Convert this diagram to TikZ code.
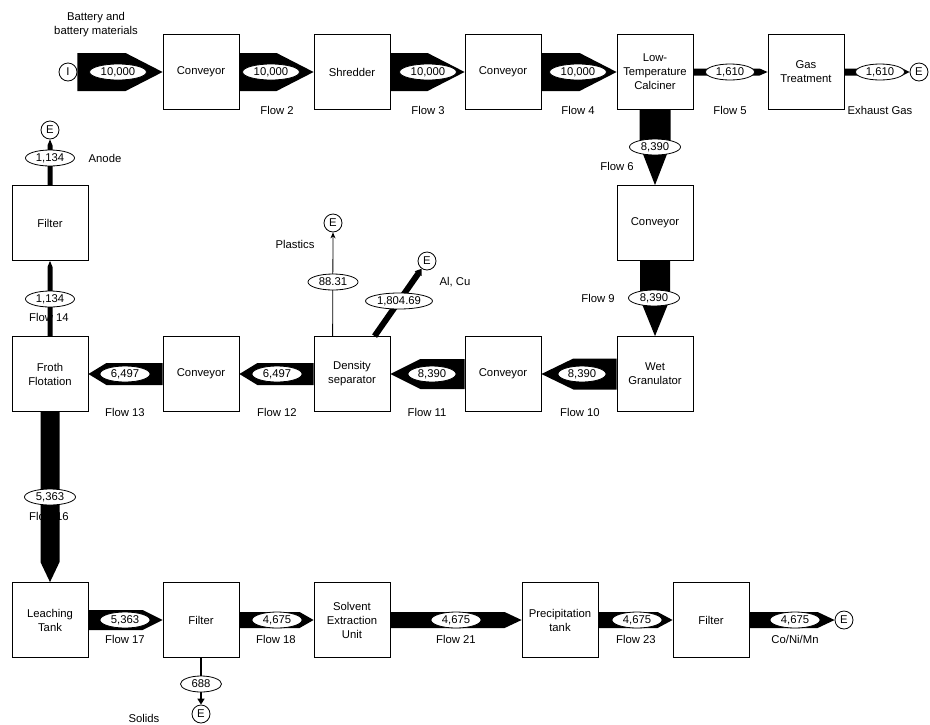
\documentclass[tikz,border=0pt]{standalone}
\usepackage{fontspec}
\setmainfont{Liberation Sans}
\usetikzlibrary{shapes.geometric,calc,arrows.meta}
% fat flow arrows drawn between node anchors: #1 start, #2 tip, #3 half thickness, #4 head length
\newcommand{\flowR}[4]{\fill ($(#1)+(0,#3)$) -- ($(#2)+(-#4,#3)$) -- (#2) -- ($(#2)+(-#4,-#3)$) -- ($(#1)+(0,-#3)$) -- cycle;}
\newcommand{\flowL}[4]{\fill ($(#1)+(0,#3)$) -- ($(#2)+(#4,#3)$) -- (#2) -- ($(#2)+(#4,-#3)$) -- ($(#1)+(0,-#3)$) -- cycle;}
\newcommand{\flowD}[4]{\fill ($(#1)+(#3,0)$) -- ($(#2)+(#3,-#4)$) -- (#2) -- ($(#2)+(-#3,-#4)$) -- ($(#1)+(-#3,0)$) -- cycle;}
\newcommand{\flowU}[4]{\fill ($(#1)+(#3,0)$) -- ($(#2)+(#3,#4)$) -- (#2) -- ($(#2)+(-#3,#4)$) -- ($(#1)+(-#3,0)$) -- cycle;}
\begin{document}
\begin{tikzpicture}[x=1pt,y=-1pt,
  every node/.style={font=\fontsize{11.3}{14}\selectfont},
  unit/.style={draw, line width=0.8pt, minimum width=76pt, minimum height=75pt, align=center, inner sep=1pt},
  val/.style={draw, ellipse, fill=white, line width=0.8pt, inner sep=0pt, minimum height=16pt},
  term/.style={draw, circle, line width=0.8pt, minimum size=18pt, inner sep=0pt, fill=white},
  lbl/.style={align=center, inner sep=0pt}]
\useasboundingbox[fill=white] (0,0) rectangle (930,724);

% ---------- process units ----------
\node[unit] (conv1) at (201,72) {Conveyor};
\node[unit] (shred) at (352,72) {Shredder};
\node[unit] (conv2) at (503,72) {Conveyor};
\node[unit] (calc)  at (655,72) {Low-\\Temperature\\Calciner};
\node[unit] (gas)   at (806,72) {Gas\\Treatment};
\node[unit] (conv3) at (655,223) {Conveyor};
\node[unit] (wetg)  at (655,374) {Wet\\Granulator};
\node[unit] (conv4) at (503,374) {Conveyor};
\node[unit] (dens)  at (352,374) {Density\\separator};
\node[unit] (conv5) at (201,374) {Conveyor};
\node[unit] (froth) at (50,374) {Froth\\Flotation};
\node[unit] (filt1) at (50,223) {Filter};
\node[unit] (leach) at (50,620) {Leaching\\Tank};
\node[unit] (filt2) at (201,620) {Filter};
\node[unit] (seu)   at (352,620) {Solvent\\Extraction\\Unit};
\node[unit] (prec)  at (560,620) {Precipitation\\tank};
\node[unit] (filt3) at (711,620) {Filter};

% ---------- terminals ----------
\node[term] (inI) at (68,72) {I};
\node[term] (exG) at (919,72) {E};
\node[term] (eAn) at (50,130) {E};
\node[term] (ePl) at (333,223) {E};
\node[term] (eAl) at (427,261) {E};
\node[term] (eCo) at (844,620) {E};
\node[term] (eSo) at (201,714) {E};

% ---------- labels ----------
\node[lbl] (tBat) at (96,25) {Battery and\\battery materials};
\node[lbl] (tF2)  at (277,110) {Flow 2};
\node[lbl] (tF3)  at (428,110) {Flow 3};
\node[lbl] (tF4)  at (578,110) {Flow 4};
\node[lbl] (tF5)  at (730,110) {Flow 5};
\node[lbl] (tEx)  at (880,110) {Exhaust Gas};
\node[lbl] (tF6)  at (617,166) {Flow 6};
\node[lbl] (tF9)  at (598,298) {Flow 9};
\node[lbl] (tF10) at (580,412) {Flow 10};
\node[lbl] (tF11) at (427,412) {Flow 11};
\node[lbl] (tF12) at (277,412) {Flow 12};
\node[lbl] (tF13) at (125,412) {Flow 13};
\node[lbl] (tF14) at (49,317) {Flow 14};
\node[lbl] (tAn)  at (105,158) {Anode};
\node[lbl] (tPl)  at (295,244) {Plastics};
\node[lbl] (tAl)  at (455,282) {Al, Cu};
\node[lbl] (tF16) at (49,516) {Flow 16};
\node[lbl] (tF17) at (125,639) {Flow 17};
\node[lbl] (tF18) at (276,639) {Flow 18};
\node[lbl] (tF21) at (456,639) {Flow 21};
\node[lbl] (tF23) at (636,639) {Flow 23};
\node[lbl] (tCo)  at (795,639) {Co/Ni/Mn};
\node[lbl, anchor=base] (tSo) at (144,722.5) {Solids};

% ---------- flows ----------
\flowR{inI.east}{conv1.west}{19}{37}
\flowR{conv1.east}{shred.west}{19}{37}
\flowR{shred.east}{conv2.west}{19}{37}
\flowR{conv2.east}{calc.west}{19}{37}
\flowR{calc.east}{gas.west}{3.5}{8}
\flowR{gas.east}{exG.west}{3.5}{7}
\flowD{calc.south}{conv3.north}{15.5}{40}
\flowD{conv3.south}{wetg.north}{15}{37}
\flowL{wetg.west}{conv4.east}{15.5}{32}
\flowL{conv4.west}{dens.east}{15}{30}
\flowL{dens.west}{conv5.east}{11}{18}
\flowL{conv5.west}{froth.east}{11}{18}
\flowU{froth.north}{filt1.south}{2.5}{6}
\flowU{filt1.north}{eAn.south}{2.5}{6}
\flowD{froth.south}{leach.north}{9.5}{20}
\flowR{leach.east}{filt2.west}{10}{20}
\flowR{filt2.east}{seu.west}{8}{14}
\flowR{seu.east}{prec.west}{8}{17}
\flowR{prec.east}{filt3.west}{8}{15}
\flowR{filt3.east}{eCo.west}{8}{17}

\coordinate (plA) at ($(dens.north west)+(19,0)$);
\coordinate (alA) at ($(dens.north west)+(61,0)$);
\draw[line width=0.8pt, -{Stealth[length=6pt,width=5pt]}] (plA) -- (ePl.south);
\draw[line width=6pt, -{Triangle[length=6pt,width=8pt]}] (alA) -- (eAl);
\draw[line width=1.5pt, -{Triangle[length=6pt,width=7pt]}] (filt2.south) -- (eSo.north);

% ---------- flow values ----------
\node[val, minimum width=57pt] (v1)  at (118,72) {10,000};
\node[val, minimum width=57pt] (v2)  at (271,72) {10,000};
\node[val, minimum width=57pt] (v3)  at (428,72) {10,000};
\node[val, minimum width=57pt] (v4)  at (578,72) {10,000};
\node[val, minimum width=49pt] (v5)  at (730,72) {1,610};
\node[val, minimum width=49pt] (vEx) at (880,72) {1,610};
\node[val, minimum width=51pt] (v6)  at (655,147) {8,390};
\node[val, minimum width=51pt] (v9)  at (654,298) {8,390};
\node[val, minimum width=48pt] (v10) at (582,374) {8,390};
\node[val, minimum width=48pt] (v11) at (432,374) {8,390};
\node[val, minimum width=50pt] (v12) at (277,374) {6,497};
\node[val, minimum width=50pt] (v13) at (125,374) {6,497};
\node[val, minimum width=49pt] (v14) at (50,299) {1,134};
\node[val, minimum width=49pt] (vAn) at (50,158) {1,134};
\node[val, minimum width=50pt] (vPl) at (333,282) {88.31};
\node[val, minimum width=67pt] (vAl) at (399,301) {1,804.69};
\node[val, minimum width=51pt] (v16) at (50,497) {5,363};
\node[val, minimum width=50pt] (v17) at (125,620) {5,363};
\node[val, minimum width=50pt] (v18) at (277,620) {4,675};
\node[val, minimum width=50pt] (v21) at (456,620) {4,675};
\node[val, minimum width=50pt] (v23) at (637,620) {4,675};
\node[val, minimum width=50pt] (vCo) at (795,620) {4,675};
\node[val, minimum width=41pt] (vSo) at (201,684) {688};
\end{tikzpicture}
\end{document}
